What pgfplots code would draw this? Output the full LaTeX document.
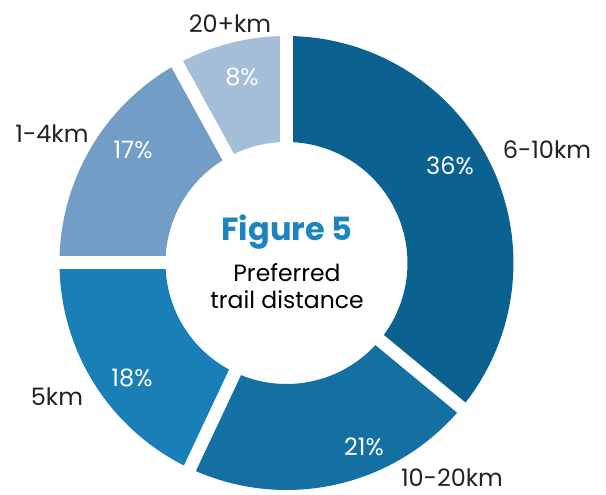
\documentclass[border=0pt]{standalone}
\usepackage{pgfplots}
\pgfplotsset{compat=1.18}
\usepackage{fontspec}
\setmainfont{Poppins}
\definecolor{cA}{HTML}{0B6290}
\definecolor{cB}{HTML}{1470A3}
\definecolor{cC}{HTML}{1A7FB7}
\definecolor{cD}{HTML}{729DC6}
\definecolor{cE}{HTML}{A6BFD8}
\definecolor{title}{HTML}{1E84C0}
\definecolor{lab}{HTML}{222222}
% centre (286.5,232) in data units (1 unit = 1 pt = 1 px), outer 227, inner 121
\newcommand{\cx}{286.5}
\newcommand{\cy}{232}
\newcommand{\wedgeplot}[3]{% colour, cumulative start %, cumulative end %
\addplot[fill=#1, draw=none, samples=102, domain=0:101, variable=\t]
 ({\cx + (\t<50.5 ? 227 : 121)*cos(\t<50.5 ? 90-3.6*(#2+(#3-#2)*\t/50) : 90-3.6*(#3-(#3-#2)*(\t-51)/50))},
  {\cy + (\t<50.5 ? 227 : 121)*sin(\t<50.5 ? 90-3.6*(#2+(#3-#2)*\t/50) : 90-3.6*(#3-(#3-#2)*(\t-51)/50))});
}
\newcommand{\gapline}[1]{% cumulative %
\addplot[white, line width=13pt, samples=2, domain=110:240]
 ({\cx + x*cos(90-3.6*#1)}, {\cy + x*sin(90-3.6*#1)});
}
\begin{document}
\begin{tikzpicture}
\begin{axis}[
  scale only axis, width=606pt, height=495pt,
  xmin=0, xmax=606, ymin=0, ymax=495,
  hide axis, clip=false,
]
\addplot[draw=none, forget plot] coordinates {(0,0) (606,495)};
% 6-10km 36, 10-20km 21, 5km 18, 1-4km 17, 20+km 8
\wedgeplot{cA}{0}{36}
\wedgeplot{cB}{36}{57}
\wedgeplot{cC}{57}{75}
\wedgeplot{cD}{75}{92}
\wedgeplot{cE}{92}{100}
\gapline{0}
\gapline{36}
\gapline{57}
\gapline{75}
\gapline{92}
% percentages
\begin{scope}[every node/.style={font=\fontsize{24}{28}\selectfont, text=white, inner sep=0pt}]
\node at (axis cs:450,329) {36\%};
\node at (axis cs:364,48) {21\%};
\node at (axis cs:132,117) {18\%};
\node at (axis cs:133,345) {17\%};
\node at (axis cs:242,418) {8\%};
\end{scope}
% category labels
\begin{scope}[every node/.style={font=\fontsize{24}{28}\selectfont, text=lab, inner sep=0pt}]
\node at (axis cs:547,345) {6-10km};
\node at (axis cs:452,17) {10-20km};
\node at (axis cs:57,98) {5km};
\node at (axis cs:52,361) {1-4km};
\node at (axis cs:230,471) {20+km};
\end{scope}
\node[font=\fontsize{32}{36}\selectfont\bfseries, text=title] at (axis cs:287,263) {Figure 5};
\node[font=\fontsize{23.5}{26}\selectfont, text=black] at (axis cs:287,222) {Preferred};
\node[font=\fontsize{23.5}{26}\selectfont, text=black] at (axis cs:287,195) {trail distance};
\end{axis}
\end{tikzpicture}
\end{document}
